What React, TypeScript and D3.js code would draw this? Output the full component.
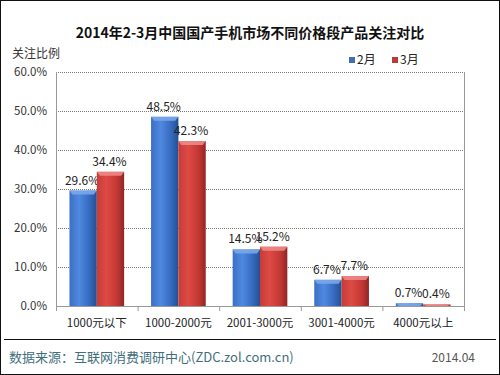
import React from 'react';
import * as d3 from 'd3';

// chart data
const categories = ['1000元以下', '1000-2000元', '2001-3000元', '3001-4000元', '4000元以上'];
const seriesNames = ['2月', '3月'];
const febValues = [29.6, 48.5, 14.5, 6.7, 0.7];
const marValues = [34.4, 42.3, 15.2, 7.7, 0.4];
const yTicks = [0, 10, 20, 30, 40, 50, 60];

const W = 500;
const H = 375;
const margin = { top: 72, right: 36, bottom: 69, left: 56 };
const font = '"Noto Sans CJK SC", "Liberation Sans", sans-serif';

const App = () => {
  const innerW = W - margin.left - margin.right;
  const innerH = H - margin.top - margin.bottom;

  const x0 = d3.scaleBand().domain(categories).range([0, innerW]).paddingInner(0.33).paddingOuter(0.165);
  const x1 = d3.scaleBand().domain(seriesNames).range([0, x0.bandwidth()]);
  const y = d3.scaleLinear().domain([0, 60]).range([innerH, 0]);
  const step = innerW / categories.length;

  const series = [
    { name: seriesNames[0], values: febValues, grad: 'gBlue', top: '#7aa8ea', legend: '#3f6fb5' },
    { name: seriesNames[1], values: marValues, grad: 'gRed', top: '#ec8a86', legend: '#b83b38' },
  ];

  return (
    <div style={{ position: 'fixed', left: 0, top: 0 }}>
      <svg width={W} height={H} style={{ display: 'block', fontFamily: font }}>
        <defs>
          <linearGradient id="gBlue" x1="0" y1="0" x2="1" y2="0">
            <stop offset="0%" stopColor="#3a6fc4" />
            <stop offset="35%" stopColor="#4f8ae0" />
            <stop offset="75%" stopColor="#3468bd" />
            <stop offset="100%" stopColor="#24508f" />
          </linearGradient>
          <linearGradient id="gRed" x1="0" y1="0" x2="1" y2="0">
            <stop offset="0%" stopColor="#c63c38" />
            <stop offset="35%" stopColor="#de4a45" />
            <stop offset="75%" stopColor="#c23733" />
            <stop offset="100%" stopColor="#8f2624" />
          </linearGradient>
        </defs>
        <rect x={0.5} y={0.5} width={W - 1} height={H - 1} fill="#fff" stroke="#111" />

        <text x={W / 2} y={38} textAnchor="middle" fontSize={14} fontWeight="bold" fill="#111">
          2014年2-3月中国国产手机市场不同价格段产品关注对比
        </text>
        <text x={12} y={58} fontSize={12} fill="#333">关注比例</text>

        {/* legend */}
        {series.map((s, i) => (
          <g key={s.name} transform={`translate(${349 + i * 43},57)`}>
            <rect width={6} height={6} fill={s.legend} />
            <text x={8} y={7} fontSize={12} fill="#222">{s.name}</text>
          </g>
        ))}

        <g transform={`translate(${margin.left},${margin.top})`}>
          {/* gridlines */}
          {yTicks.slice(1).map((t) => (
            <line key={t} x1={0} x2={innerW} y1={y(t) + 0.5} y2={y(t) + 0.5} stroke="#777" strokeDasharray="1,1" />
          ))}
          <line x1={innerW + 0.5} x2={innerW + 0.5} y1={0} y2={innerH} stroke="#999" />
          <line x1={0.5} x2={0.5} y1={0} y2={innerH} stroke="#999" />
          <line x1={0} x2={innerW} y1={innerH + 0.5} y2={innerH + 0.5} stroke="#999" />
          {d3.range(categories.length + 1).map((i) => (
            <line key={i} x1={i * step + 0.5} x2={i * step + 0.5} y1={innerH} y2={innerH + 5} stroke="#999" />
          ))}

          {yTicks.map((t) => (
            <text key={t} x={-9} y={y(t) + 4} textAnchor="end" fontSize={11.5} fill="#333">
              {d3.format('.1f')(t)}%
            </text>
          ))}

          {categories.map((c) => (
            <text key={c} x={(x0(c) ?? 0) + x0.bandwidth() / 2} y={innerH + 21} textAnchor="middle" fontSize={11.5} fill="#222">
              {c}
            </text>
          ))}

          {/* bars */}
          {series.map((s) =>
            categories.map((c, i) => {
              const bx = (x0(c) ?? 0) + (x1(s.name) ?? 0);
              const by = y(s.values[i]);
              const bw = x1.bandwidth();
              const bh = innerH - by;
              return (
                <g key={s.name + c}>
                  <rect x={bx} y={by} width={bw} height={bh} fill={`url(#${s.grad})`} />
                  <path
                    d={`M${bx},${by} L${bx + bw},${by} L${bx + bw - 3},${by + Math.min(4, bh)} L${bx + 3},${by + Math.min(4, bh)} Z`}
                    fill={s.top}
                    opacity={0.9}
                  />
                  <text x={bx + bw / 2 - 1} y={by - 6} textAnchor="middle" fontSize={12} fill="#222">
                    {d3.format('.1f')(s.values[i])}%
                  </text>
                </g>
              );
            })
          )}
        </g>

        <line x1={4} x2={496} y1={339.5} y2={339.5} stroke="#111" />
        <text x={9} y={362} fontSize={13} fill="#3f6f7c">数据来源：互联网消费调研中心(ZDC.zol.com.cn)</text>
        <text x={475} y={362} textAnchor="end" fontSize={12} fill="#555">2014.04</text>
      </svg>
    </div>
  );
};

export default App;
